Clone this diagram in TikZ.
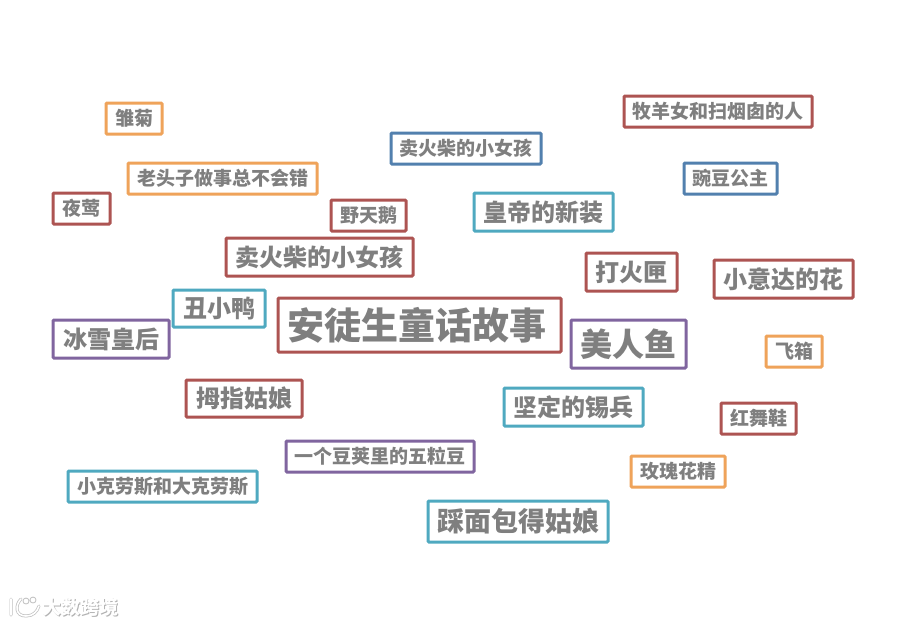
\documentclass[tikz,border=0pt]{standalone}
\usepackage{fontspec}
\setmainfont{Noto Sans CJK SC}
\definecolor{boxred}{HTML}{AD5452}
\definecolor{boxorange}{HTML}{EFA35A}
\definecolor{boxblue}{HTML}{5280AE}
\definecolor{boxteal}{HTML}{4FA9C0}
\definecolor{boxpurple}{HTML}{80659F}
\definecolor{tagtext}{HTML}{7F7F7F}
\tikzset{
  tagbox/.style={draw=#1,line width=3pt,rounded corners=1pt,fill=white,inner sep=0pt,outer sep=0pt,text=tagtext},
  marktext/.style={inner sep=0pt,font=\fontsize{19}{19}\selectfont\bfseries}
}
\begin{document}
\begin{tikzpicture}[x=1pt,y=-1pt]
\useasboundingbox[fill=white] (0,0) rectangle (907,625);
% tags: name / left / top / right / bottom / colour / font size / text
\foreach \name/\xa/\ya/\xb/\yb/\col/\fs/\txt in {
  daisy/105/102/163/135/boxorange/19/雏菊,
  shepherdess/623/95/813/128/boxred/19/牧羊女和扫烟囱的人,
  matchgirla/390/132/542/165/boxblue/19/卖火柴的小女孩,
  oldman/127/162/318/195/boxorange/19/老头子做事总不会错,
  princess/683/162/778/195/boxblue/19/豌豆公主,
  nightingale/52/192/111/225/boxred/19/夜莺,
  swans/330/199/407/232/boxred/19/野天鹅,
  emperor/473/192/614/232/boxteal/24/皇帝的新装,
  matchgirlb/225/237/414/277/boxred/24/卖火柴的小女孩,
  tinderbox/585/252/678/292/boxred/24/打火匣,
  ida/713/259/854/299/boxred/24/小意达的花,
  duckling/172/289/266/328/boxteal/24/丑小鸭,
  andersen/277/297/562/353/boxred/37/安徒生童话故事\kern5pt,
  snowqueen/52/319/170/359/boxpurple/24/冰雪皇后,
  mermaid/570/319/687/369/boxpurple/32/美人鱼,
  trunk/765/335/823/368/boxorange/19/飞箱,
  thumbelina/185/379/303/418/boxred/24/拇指姑娘,
  soldier/503/387/644/427/boxteal/24/坚定的锡兵,
  redshoes/720/402/797/435/boxred/19/红舞鞋,
  peas/285/440/475/473/boxpurple/19/一个豆荚里的五粒豆,
  rose/630/455/726/488/boxorange/19/玫瑰花精,
  claus/67/470/258/503/boxteal/19/小克劳斯和大克劳斯,
  loaf/427/500/609/543/boxteal/27/踩面包得姑娘%
}{
  \node[tagbox=\col,minimum width={(\xb-\xa-2)*1pt},minimum height={(\yb-\ya-2)*1pt},
    font=\fontsize{\fs}{\fs}\selectfont\bfseries] (\name) at ({(\xa+\xb)/2},{(\ya+\yb)/2}) {\txt};
}
% watermark
\node[marktext,text=black!30] (markshadow) at (81.5,608.5) {大数跨境};
\node[marktext,text=white] (marktitle) at (80.5,607.5) {大数跨境};
\draw[black!25,line width=3pt,line cap=round] (11,599) -- (11,615) (21,599) .. controls (15,605) and (15,616) .. (26,616) .. controls (33,616) and (37,612) .. (39,606);
\draw[white,line width=1.6pt,line cap=round] (11,599) -- (11,615) (21,599) .. controls (15,605) and (15,616) .. (26,616) .. controls (33,616) and (37,612) .. (39,606);
\draw[black!25,line width=0.8pt,fill=white] (26,601) circle (3pt) (33,600) circle (3pt);
\end{tikzpicture}
\end{document}
